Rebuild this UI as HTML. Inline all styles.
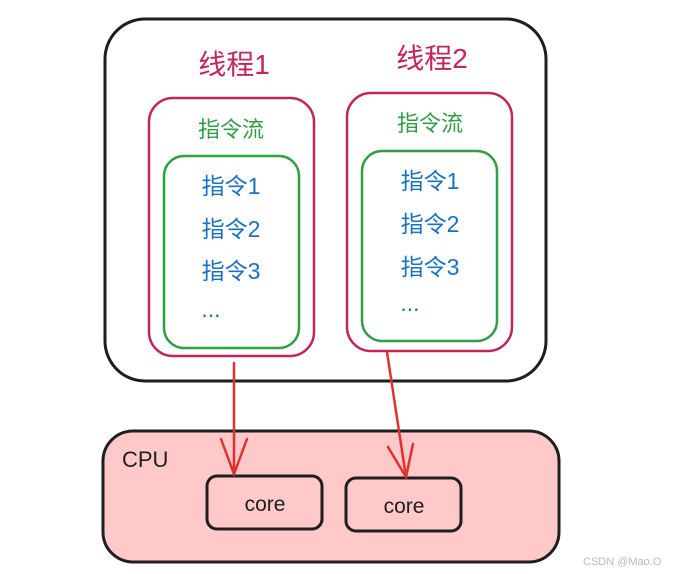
<!DOCTYPE html>
<html><head><meta charset="utf-8"><style>body{margin:0;background:#fff}svg{display:block}text{font-family:"Liberation Sans","Noto Sans CJK SC",sans-serif}</style></head>
<body><svg width="674" height="574" viewBox="0 0 674 574">
<rect x="105" y="19" width="441" height="362" rx="40" fill="#fff" stroke="#1e1e1e" stroke-width="3"/>
<rect x="149" y="98" width="165" height="258" rx="24" fill="none" stroke="#c2255c" stroke-width="2.5"/>
<rect x="164" y="156" width="135" height="192" rx="20" fill="none" stroke="#2f9e44" stroke-width="2.5"/>
<rect x="347" y="93" width="165" height="258" rx="24" fill="none" stroke="#c2255c" stroke-width="2.5"/>
<rect x="362" y="151" width="135" height="190" rx="20" fill="none" stroke="#2f9e44" stroke-width="2.5"/>
<g fill="#c2255c" font-size="28" text-anchor="middle"><text x="234" y="74">线程1</text><text x="432" y="68">线程2</text></g>
<g fill="#2f9e44" font-size="22" text-anchor="middle"><text x="231" y="137">指令流</text><text x="430" y="131">指令流</text></g>
<g fill="#1971c2" font-size="23" text-anchor="middle">
<text x="231" y="194">指令1</text><text x="231" y="237">指令2</text><text x="231" y="279">指令3</text><text x="211" y="317">...</text>
<text x="430" y="189">指令1</text><text x="430" y="232">指令2</text><text x="430" y="275">指令3</text><text x="410" y="311">...</text></g>
<rect x="103" y="431" width="456" height="131" rx="30" fill="#ffc9c9" stroke="#1e1e1e" stroke-width="3"/>
<text x="122" y="467" font-size="22" fill="#1e1e1e">CPU</text>
<rect x="207" y="476" width="115" height="53" rx="10" fill="none" stroke="#1e1e1e" stroke-width="3"/>
<rect x="346" y="478" width="115" height="53" rx="10" fill="none" stroke="#1e1e1e" stroke-width="3"/>
<g font-size="21" fill="#1e1e1e" text-anchor="middle"><text x="265" y="511">core</text><text x="404" y="513">core</text></g>
<g stroke="#e03131" stroke-width="2.5" fill="none" stroke-linecap="round">
<path d="M234 363 L234 474 M221 439 L234 474 L247 439"/>
<path d="M387 352 L406 477 M388 447 L406 477 L413 444"/>
</g>
<text x="583" y="565" font-size="11" fill="#bbb">CSDN @Mao.O</text>
</svg></body></html>
